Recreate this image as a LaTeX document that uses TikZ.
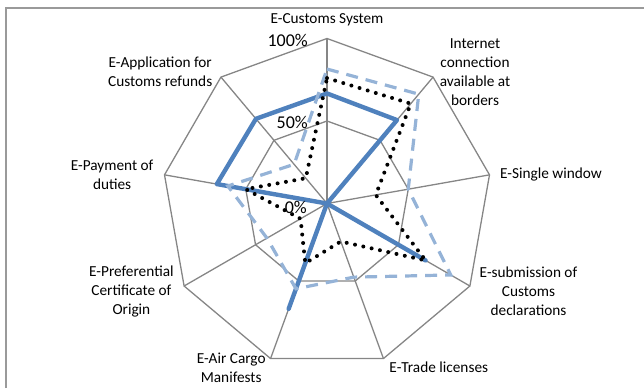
\documentclass[tikz,border=0pt]{standalone}
\usepackage{fontspec}
\setmainfont{Carlito}
\definecolor{gridgray}{HTML}{868686}
\definecolor{framegray}{HTML}{9A9A9A}
\definecolor{serA}{HTML}{4F81BD}
\definecolor{serB}{HTML}{95B3D7}
\begin{document}
\begin{tikzpicture}[x=1pt,y=1pt,
  gridline/.style={draw=gridgray, line width=1.3pt},
  framestyle/.style={draw=framegray, line width=1.8pt},
  lbl/.style={font=\fontsize{15.3}{19}\selectfont, align=center, inner sep=0pt},
  pct/.style={font=\fontsize{18}{20}\selectfont, anchor=east, inner sep=0pt},
  seriesA/.style={draw=serA, line width=4.4pt, line join=round, line cap=round},
  seriesB/.style={draw=serB, line width=3.2pt, dash pattern=on 12pt off 8pt},
  seriesC/.style={draw=black, line width=4pt, line cap=round, dash pattern=on 0pt off 8.5pt}]
\useasboundingbox (0,0) rectangle (644,-388);
\coordinate (f1) at (6,-388);
\coordinate (f2) at (6,-8);
\coordinate (f3) at (644,-8);
\draw[framestyle] (f1) -- (f2) -- (f3);
\begin{scope}[shift={(327,-203.5)}]
  \coordinate (c) at (0,0);
  \foreach \i in {0,...,8} \draw[gridline] (c) -- (90-40*\i:165);
  \draw[gridline] (90:165) \foreach \i in {1,...,8} {-- (90-40*\i:165)} -- cycle;
  \draw[gridline] (90:82.5) \foreach \i in {1,...,8} {-- (90-40*\i:82.5)} -- cycle;
  % solid series
  \draw[seriesA] (90:{0.667*165}) -- (50:{0.66*165}) -- (c) -- (-30:{0.69*165}) -- (c)
     -- (-110:{0.68*165}) -- (c) -- (-190:{0.678*165}) -- (-230:{0.67*165}) -- cycle;
  % dashed series
  \draw[seriesB] (90:{0.815*165}) -- (50:{0.865*165}) -- (10:{0.5*165}) -- (-30:{0.866*165})
     -- (-70:{0.475*165}) -- (-110:{0.55*165}) -- (-150:{0.42*165}) -- (-190:{0.61*165})
     -- (-230:{0.31*165}) -- cycle;
  % dotted series
  \draw[seriesC] (90:{0.76*165}) -- (50:{0.79*165}) -- (10:{0.30*165}) -- (-30:{0.69*165})
     -- (-70:{0.245*165}) -- (-110:{0.385*165}) -- (-150:{0.185*165}) -- (-190:{0.50*165})
     -- (-230:{0.20*165}) -- cycle;
\end{scope}
\node[pct] (p100) at (308,-40) {100\%};
\node[pct] (p50) at (308,-122.5) {50\%};
\node[pct] (p0) at (307,-207) {0\%};
\node[lbl] (cust) at (327,-20) {E-Customs System};
\node[lbl] (inet) at (475,-72) {Internet\\connection\\available at\\borders};
\node[lbl] (single) at (551,-175) {E-Single window};
\node[lbl] (subm) at (528.5,-291.7) {E-submission of\\Customs\\declarations};
\node[lbl] (trade) at (438.8,-367.7) {E-Trade licenses};
\node[lbl] (air) at (231.2,-368) {E-Air Cargo\\Manifests};
\node[lbl] (pref) at (131.4,-291.7) {E-Preferential\\Certificate of\\Origin};
\node[lbl] (pay) at (112.1,-174.5) {E-Payment of\\duties};
\node[lbl] (app) at (160.2,-72) {E-Application for\\Customs refunds};
\end{tikzpicture}
\end{document}
